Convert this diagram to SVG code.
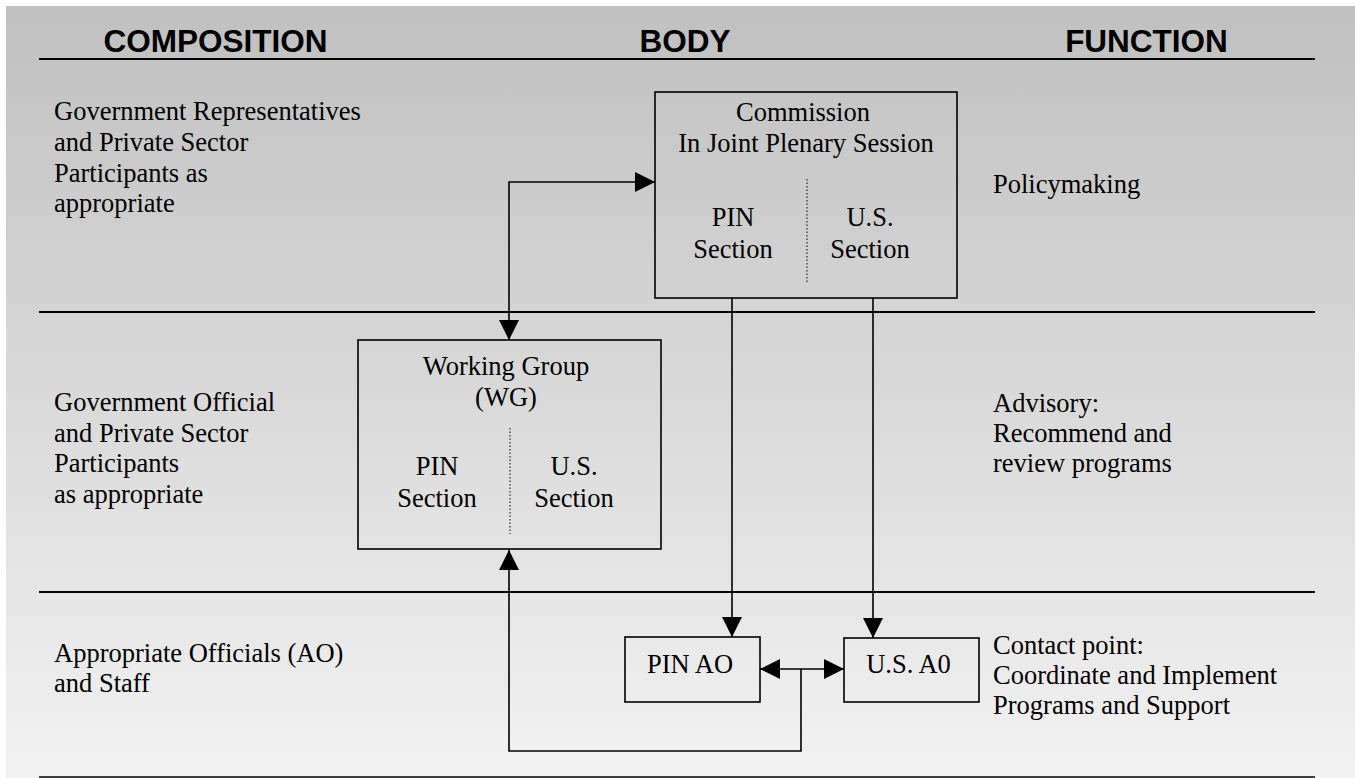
<svg xmlns="http://www.w3.org/2000/svg" width="1355" height="778" viewBox="0 0 1355 778">
  <defs>
    <linearGradient id="bg" x1="0" y1="0" x2="0" y2="1">
      <stop offset="0" stop-color="#c0c0c0"/>
      <stop offset="1" stop-color="#f2f2f2"/>
    </linearGradient>
    <marker id="arr" viewBox="0 0 20 20" markerWidth="20" markerHeight="20" markerUnits="userSpaceOnUse" refX="20" refY="10" orient="auto-start-reverse">
      <path d="M0,0 L20,10 L0,20 z" fill="#000"/>
    </marker>
    <style>
      .hdr { font-family: "Liberation Sans", Arial, sans-serif; font-weight: bold; font-size: 31.5px; fill: #000; }
      .txt { font-family: "Liberation Serif", "Times New Roman", serif; font-size: 26.5px; fill: #000; }
      .ctr { text-anchor: middle; }
      .rule { stroke: #000; stroke-width: 2.2; }
      .box { fill: none; stroke: #000; stroke-width: 1.6; }
      .dot { stroke: #000; stroke-width: 1; stroke-dasharray: 1.5 2; }
      .conn { fill: none; stroke: #000; stroke-width: 1.6; }
    </style>
  </defs>

  <rect x="0" y="0" width="1355" height="778" fill="#fff"/>
  <rect x="6" y="6" width="1349" height="772" fill="url(#bg)"/>

  <g id="headers">
    <text class="hdr ctr" x="215.5" y="52">COMPOSITION</text>
    <text class="hdr ctr" x="685" y="52">BODY</text>
    <text class="hdr ctr" x="1146.5" y="52">FUNCTION</text>
  </g>

  <g id="rules">
    <line class="rule" x1="39" y1="59" x2="1315" y2="59"/>
    <line class="rule" x1="39" y1="312" x2="1315" y2="312"/>
    <line class="rule" x1="39" y1="592" x2="1315" y2="592"/>
    <line x1="39" y1="777" x2="1315" y2="777" stroke="#000" stroke-width="1.5"/>
  </g>

  <g id="composition-labels" class="txt">
    <text x="54" y="120">Government Representatives</text>
    <text x="54" y="151">and Private Sector</text>
    <text x="54" y="182">Participants as</text>
    <text x="54" y="212">appropriate</text>
    <text x="54" y="411">Government Official</text>
    <text x="54" y="442">and Private Sector</text>
    <text x="54" y="472">Participants</text>
    <text x="54" y="503">as appropriate</text>
    <text x="54" y="662">Appropriate Officials (AO)</text>
    <text x="54" y="692">and Staff</text>
  </g>

  <g id="function-labels" class="txt">
    <text x="993" y="193">Policymaking</text>
    <text x="993" y="412">Advisory:</text>
    <text x="993" y="442">Recommend and</text>
    <text x="993" y="472">review programs</text>
    <text x="993" y="654">Contact point:</text>
    <text x="993" y="684">Coordinate and Implement</text>
    <text x="993" y="714">Programs and Support</text>
  </g>

  <g id="commission">
    <rect class="box" x="655" y="92" width="302" height="206"/>
    <text class="txt ctr" x="803" y="121">Commission</text>
    <text class="txt ctr" x="806" y="152">In Joint Plenary Session</text>
    <line class="dot" x1="807" y1="179" x2="807" y2="284"/>
    <text class="txt ctr" x="733" y="226">PIN</text>
    <text class="txt ctr" x="733" y="258">Section</text>
    <text class="txt ctr" x="870" y="226">U.S.</text>
    <text class="txt ctr" x="870" y="258">Section</text>
  </g>

  <g id="working-group">
    <rect class="box" x="358" y="340" width="303" height="209"/>
    <text class="txt ctr" x="506" y="375">Working Group</text>
    <text class="txt ctr" x="506" y="406">(WG)</text>
    <line class="dot" x1="510" y1="428" x2="510" y2="534"/>
    <text class="txt ctr" x="437" y="475">PIN</text>
    <text class="txt ctr" x="437" y="507">Section</text>
    <text class="txt ctr" x="574" y="475">U.S.</text>
    <text class="txt ctr" x="574" y="507">Section</text>
  </g>

  <g id="pin-ao">
    <rect class="box" x="625" y="637" width="135" height="65"/>
    <text class="txt ctr" x="690" y="673">PIN AO</text>
  </g>

  <g id="us-ao">
    <rect class="box" x="844" y="638" width="135" height="64"/>
    <text class="txt ctr" x="908.5" y="673">U.S. A0</text>
  </g>

  <g id="connectors">
    <path class="conn" d="M509,340 V182 H655" marker-start="url(#arr)" marker-end="url(#arr)"/>
    <path class="conn" d="M732,298 V637" marker-end="url(#arr)"/>
    <path class="conn" d="M873,298 V638" marker-end="url(#arr)"/>
    <path class="conn" d="M760,669 H844" marker-start="url(#arr)" marker-end="url(#arr)"/>
    <path class="conn" d="M801,669 V751 H509 V550" marker-end="url(#arr)"/>
  </g>
</svg>
